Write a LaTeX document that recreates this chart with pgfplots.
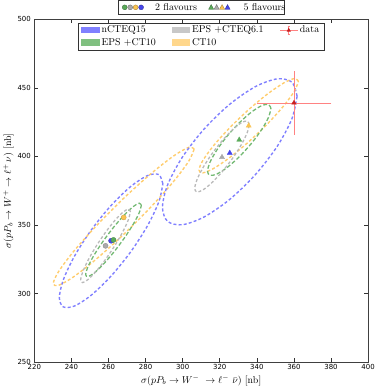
\documentclass[border=0pt]{standalone}
\usepackage{pgfplots}
\pgfplotsset{compat=1.18}
\usepackage{fontspec}
\newfontfamily\tickfont{DejaVu Sans}
\definecolor{eB}{RGB}{128,128,255}
\definecolor{eG}{RGB}{115,185,115}
\definecolor{eGr}{RGB}{185,185,185}
\definecolor{eO}{RGB}{255,205,110}
\definecolor{pB}{RGB}{128,128,255}
\definecolor{pG}{RGB}{128,192,128}
\definecolor{pGr}{RGB}{200,200,200}
\definecolor{pO}{RGB}{255,215,140}
\definecolor{mB}{RGB}{70,70,235}
\definecolor{mG}{RGB}{90,170,90}
\definecolor{mGr}{RGB}{170,170,170}
\definecolor{mO}{RGB}{250,195,80}
\definecolor{eR}{RGB}{255,130,130}
\definecolor{mR}{RGB}{200,30,30}
\begin{document}
\begin{tikzpicture}
\begin{axis}[
  name=ax,
  scale only axis, width=336pt, height=345.5pt,
  xmin=220, xmax=400, ymin=250, ymax=500,
  xtick={220,240,...,400}, ytick={250,300,...,500},
  tick align=inside, tick pos=both,
  major tick length=4pt,
  tick style={color=black!80, line width=0.6pt},
  axis line style={black!75, line width=0.8pt},
  ticklabel style={font=\tickfont\fontsize{7}{8}\selectfont},
  xticklabel style={yshift=1.2pt},
  /pgf/number format/assume math mode=true,
  xlabel={$\sigma(pP_b \to W^-\ \to \ell^-\ \bar\nu)$ [nb]},
  ylabel={$\sigma(pP_b \to W^+ \to \ell^+\,\nu)$ [nb]},
  label style={font=\fontsize{10}{11}\selectfont},
  xlabel style={yshift=1.5pt},
  ylabel style={yshift=-3pt},
  legend columns=3,
  legend cell align=left,
  legend style={at={(0.5,0.99)}, anchor=north, draw=black!80, line width=0.8pt,
    font=\fontsize{10}{11}\selectfont, row sep=0pt, inner ysep=1pt,
    /tikz/every even column/.append style={column sep=14pt}},
  every axis plot/.append style={mark=none},
]
% legend entries
\addlegendimage{legend image code/.code={\fill[pB] (0cm,-0.09cm) rectangle (0.62cm,0.11cm);}}
\addlegendentry{nCTEQ15}
\addlegendimage{legend image code/.code={\fill[pGr] (0cm,-0.09cm) rectangle (0.62cm,0.11cm);}}
\addlegendentry{EPS +CTEQ6.1}
\addlegendimage{legend image code/.code={
  \draw[eR, line width=0.8pt] (0cm,0cm) -- (0.62cm,0cm);
  \draw[eR, line width=0.8pt] (0.31cm,-0.14cm) -- (0.31cm,0.14cm);
  \draw[eR, line width=0.8pt] (0.27cm,-0.14cm) -- (0.35cm,-0.14cm);
  \draw[eR, line width=0.8pt] (0.27cm,0.14cm) -- (0.35cm,0.14cm);
  \fill[mR] (0.31cm,0.06cm) -- (0.26cm,-0.035cm) -- (0.36cm,-0.035cm) -- cycle;
}}
\addlegendentry{data}
\addlegendimage{legend image code/.code={\fill[pG] (0cm,-0.09cm) rectangle (0.62cm,0.11cm);}}
\addlegendentry{EPS +CT10}
\addlegendimage{legend image code/.code={\fill[pO] (0cm,-0.09cm) rectangle (0.62cm,0.11cm);}}
\addlegendentry{CT10}

% ---- 2 flavours ellipses ----
\addplot[eB, line width=1.4pt, dash pattern=on 3pt off 2.2pt, smooth, forget plot] coordinates {
(289.3,380.1)(287.18,386.78)(281.13,386.12)(272.08,378.22)(261.4,364.3)(250.72,346.46)(241.67,327.43)(235.62,310.1)
(233.5,297.1)(235.62,290.42)(241.67,291.08)(250.72,298.98)(261.4,312.9)(272.08,330.74)(281.13,349.77)(287.18,367.1)(289.3,380.1)};
\addplot[eO, line width=1.4pt, dash pattern=on 3pt off 2.2pt, smooth, forget plot] coordinates {
(306.2,405.38)(303.31,406.67)(295.07,400.32)(282.74,387.27)(268.2,369.53)(253.66,349.79)(241.33,331.05)(233.09,316.17)
(230.2,307.42)(233.09,306.13)(241.33,312.48)(253.66,325.53)(268.2,343.27)(282.74,363.01)(295.07,381.75)(303.31,396.63)(306.2,405.38)};
\addplot[eG, line width=1.3pt, dash pattern=on 4pt off 2.2pt, smooth, forget plot] coordinates {
(277.7,364.39)(276.56,365.97)(273.31,363.47)(268.44,357.28)(262.7,348.34)(256.96,338.0)(252.09,327.85)(248.84,319.43)
(247.7,314.01)(248.84,312.43)(252.09,314.93)(256.96,321.12)(262.7,330.06)(268.44,340.4)(273.31,350.55)(276.56,358.97)(277.7,364.39)};
\addplot[eGr, line width=1.3pt, dash pattern=on 3pt off 2.2pt, smooth, forget plot] coordinates {
(271.8,359.82)(270.78,361.69)(267.88,359.49)(263.53,353.55)(258.4,344.76)(253.27,334.47)(248.92,324.25)(246.02,315.65)
(245.0,309.98)(246.02,308.11)(248.92,310.31)(253.27,316.25)(258.4,325.04)(263.53,335.33)(267.88,345.55)(270.78,354.15)(271.8,359.82)};

% ---- 5 flavours ellipses ----
\addplot[eB, line width=1.4pt, dash pattern=on 3pt off 2.2pt, smooth, forget plot] coordinates {
(361.7,443.91)(358.94,454.09)(351.07,456.55)(339.29,450.91)(325.4,438.05)(311.51,419.91)(299.73,399.26)(291.86,379.23)
(289.1,362.89)(291.86,352.71)(299.73,350.25)(311.51,355.89)(325.4,368.75)(339.29,386.89)(351.07,407.54)(358.94,427.57)(361.7,443.91)};
\addplot[eO, line width=1.4pt, dash pattern=on 3pt off 2.2pt, smooth, forget plot] coordinates {
(362.4,454.74)(360.36,456.77)(354.55,453.56)(345.86,445.62)(335.6,434.13)(325.34,420.86)(316.65,407.83)(310.84,397.01)
(308.8,390.06)(310.84,388.03)(316.65,391.24)(325.34,399.18)(335.6,410.67)(345.86,423.94)(354.55,436.97)(360.36,447.79)(362.4,454.74)};
\addplot[eG, line width=1.3pt, dash pattern=on 4pt off 2.2pt, smooth, forget plot] coordinates {
(347.6,434.98)(346.3,437.97)(342.59,437.01)(337.04,432.27)(330.5,424.45)(323.96,414.75)(318.41,404.65)(314.7,395.69)
(313.4,389.22)(314.7,386.23)(318.41,387.19)(323.96,391.93)(330.5,399.75)(337.04,409.45)(342.59,419.55)(346.3,428.51)(347.6,434.98)};
\addplot[eGr, line width=1.3pt, dash pattern=on 3pt off 2.2pt, smooth, forget plot] coordinates {
(335.9,423.31)(334.78,425.86)(331.59,424.47)(326.83,419.35)(321.2,411.29)(315.57,401.51)(310.81,391.5)(307.62,382.78)
(306.5,376.69)(307.62,374.14)(310.81,375.53)(315.57,380.65)(321.2,388.71)(326.83,398.49)(331.59,408.5)(334.78,417.22)(335.9,423.31)};

% ---- central values ----
\addplot[only marks, mark=*, mark size=2.6pt, mark options={fill=mGr, draw=mGr!80!black, line width=0.3pt}, forget plot] coordinates {(258.4,334.9)};
\addplot[only marks, mark=*, mark size=2.6pt, mark options={fill=mB, draw=mB!80!black, line width=0.3pt}, forget plot] coordinates {(261.4,338.6)};
\addplot[only marks, mark=*, mark size=2.6pt, mark options={fill=mG, draw=mG!80!black, line width=0.3pt}, forget plot] coordinates {(262.7,339.2)};
\addplot[only marks, mark=*, mark size=2.6pt, mark options={fill=mO, draw=mO!80!black, line width=0.3pt}, forget plot] coordinates {(268.2,355.6)};
\addplot[only marks, mark=triangle*, mark size=3pt, mark options={fill=mGr, draw=mGr, line width=0.3pt}, forget plot] coordinates {(321.2,399.5)};
\addplot[only marks, mark=triangle*, mark size=3pt, mark options={fill=mB, draw=mB, line width=0.3pt}, forget plot] coordinates {(325.4,402.5)};
\addplot[only marks, mark=triangle*, mark size=3pt, mark options={fill=mG, draw=mG, line width=0.3pt}, forget plot] coordinates {(330.5,412.1)};
\addplot[only marks, mark=triangle*, mark size=3pt, mark options={fill=mO, draw=mO, line width=0.3pt}, forget plot] coordinates {(335.6,422.4)};

% ---- data ----
\addplot[forget plot, only marks, mark=triangle*, mark size=2.6pt, mark options={fill=mR, draw=mR},
  error bars/.cd, x dir=both, x explicit, y dir=both, y explicit,
  error bar style={eR, line width=0.8pt},
  error mark options={eR, line width=0.8pt, mark size=2.2pt}]
  coordinates {(360,439) +- (19,21.5)};
\end{axis}
% second legend (flavour scheme), above the axis
\node[draw=black!80, line width=0.8pt, fill=white, anchor=south, minimum width=167pt, minimum height=14pt, inner sep=0pt]
  (lg) at ([yshift=4.5pt]ax.north) {};
\node[anchor=west, inner sep=0pt, font=\fontsize{10}{11}\selectfont] at ([xshift=-46.5pt,yshift=0.3pt]lg.center) {2 flavours};
\node[anchor=west, inner sep=0pt, font=\fontsize{10}{11}\selectfont] at ([xshift=42.5pt,yshift=0.3pt]lg.center) {5 flavours};
\filldraw[fill=mG, draw=mG!60!black, line width=0.3pt] ([xshift=-77pt]lg.center) circle (2.5pt);
\filldraw[fill=mGr, draw=mGr!60!black, line width=0.3pt] ([xshift=-71.5pt]lg.center) circle (2.5pt);
\filldraw[fill=mO, draw=mO!60!black, line width=0.3pt] ([xshift=-66pt]lg.center) circle (2.5pt);
\filldraw[fill=mB, draw=mB!60!black, line width=0.3pt] ([xshift=-60.5pt]lg.center) circle (2.5pt);
\filldraw[fill=mG, draw=mG!60!black, line width=0.3pt] ([xshift=7.4pt,yshift=-2pt]lg.center) -- ++(5.2pt,0) -- ++(-2.6pt,4.8pt) -- cycle;
\filldraw[fill=mGr, draw=mGr!60!black, line width=0.3pt] ([xshift=12.9pt,yshift=-2pt]lg.center) -- ++(5.2pt,0) -- ++(-2.6pt,4.8pt) -- cycle;
\filldraw[fill=mO, draw=mO!60!black, line width=0.3pt] ([xshift=18.4pt,yshift=-2pt]lg.center) -- ++(5.2pt,0) -- ++(-2.6pt,4.8pt) -- cycle;
\filldraw[fill=mB, draw=mB!60!black, line width=0.3pt] ([xshift=23.9pt,yshift=-2pt]lg.center) -- ++(5.2pt,0) -- ++(-2.6pt,4.8pt) -- cycle;
\end{tikzpicture}
\end{document}
